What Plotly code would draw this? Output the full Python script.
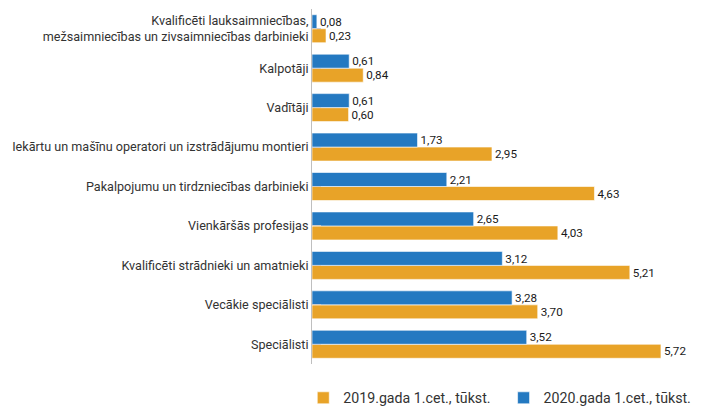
import plotly.graph_objects as go

categories = [
    "Kvalificēti lauksaimniecības,<br>mežsaimniecības un zivsaimniecības darbinieki",
    "Kalpotāji",
    "Vadītāji",
    "Iekārtu un mašīnu operatori un izstrādājumu montieri",
    "Pakalpojumu un tirdzniecības darbinieki",
    "Vienkāršās profesijas",
    "Kvalificēti strādnieki un amatnieki",
    "Vecākie speciālisti",
    "Speciālisti",
]
values_2019 = [0.23, 0.84, 0.60, 2.95, 4.63, 4.03, 5.21, 3.70, 5.72]
values_2020 = [0.08, 0.61, 0.61, 1.73, 2.21, 2.65, 3.12, 3.28, 3.52]
series_names = ["2019.gada 1.cet., tūkst.", "2020.gada 1.cet., tūkst."]

# bottom-to-top order for plotting
cats = categories[::-1]
v19 = values_2019[::-1]
v20 = values_2020[::-1]

def fmt(v):
    return f"{v:.2f}".replace(".", ",")

fig = go.Figure()
fig.add_trace(go.Bar(
    y=cats, x=v19, orientation="h", name=series_names[0], legend="legend",
    marker=dict(color="#E8A328", line=dict(color="rgba(255,255,255,0.6)", width=1)),
    text=[fmt(v) for v in v19], textposition="outside",
    textfont=dict(family="Roboto", size=12.5, color="#1a1a1a"), cliponaxis=False,
))
fig.add_trace(go.Bar(
    y=cats, x=v20, orientation="h", name=series_names[1], legend="legend2",
    marker=dict(color="#2479C1", line=dict(color="rgba(255,255,255,0.6)", width=1)),
    text=[fmt(v) for v in v20], textposition="outside",
    textfont=dict(family="Roboto", size=12.5, color="#1a1a1a"), cliponaxis=False,
))

legend_common = dict(
    orientation="h", xref="container", xanchor="left",
    y=-0.096, yanchor="middle",
    font=dict(family="Roboto", size=14.2, color="#333333"),
)

# page body has an 8px margin, so the figure is sized 698x411
fig.update_layout(
    width=698, height=411,
    margin=dict(l=304, r=6, t=1, b=55, autoexpand=False),
    barmode="group", bargap=0.29, bargroupgap=0,
    plot_bgcolor="white", paper_bgcolor="white",
    font=dict(family="Roboto", size=12.6, color="#333333"),
    showlegend=True,
    legend=dict(x=0.423, **legend_common),
    legend2=dict(x=0.710, **legend_common),
    xaxis=dict(range=[0, 6.36], showgrid=False, showticklabels=False,
               zeroline=False, showline=False, fixedrange=True, automargin=False),
    yaxis=dict(showline=True, linecolor="#bfbfbf", linewidth=1, automargin=False,
               ticks="inside", ticklen=9, tickcolor="#cccccc",
               showgrid=False, tickfont=dict(family="Roboto", size=12.6, color="#333333")),
)

fig.write_html("out.html")
